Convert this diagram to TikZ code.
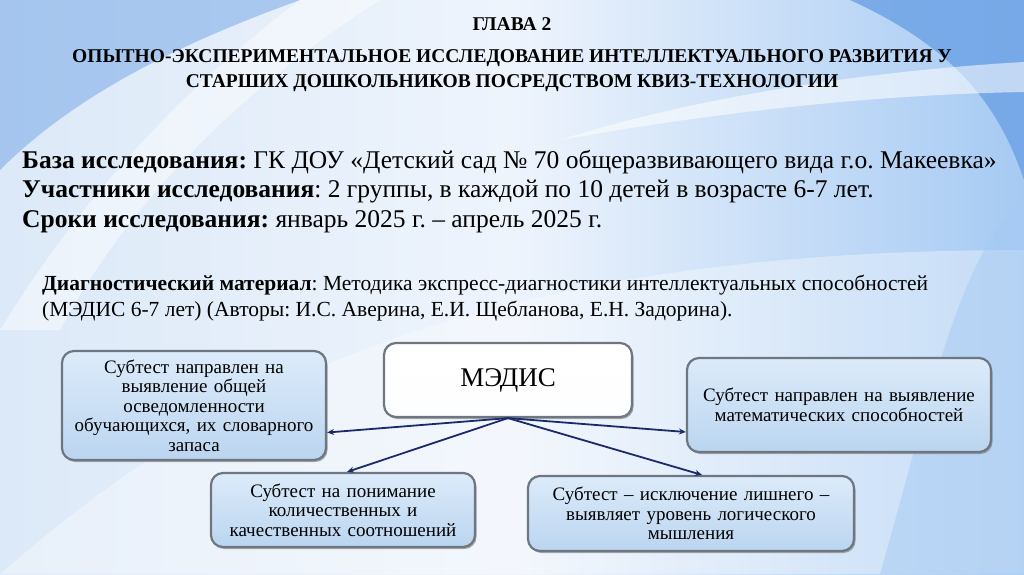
\documentclass[tikz,border=0pt]{standalone}
\usepackage{fontspec}
\setmainfont{Liberation Serif}
\usetikzlibrary{arrows.meta,calc,shadows}
\frenchspacing
\definecolor{navy}{HTML}{1B2A6B}
\definecolor{bordergray}{HTML}{6E7781}
\definecolor{boxtop}{HTML}{DCEBFA}
\definecolor{boxbot}{HTML}{BBD5F0}
\definecolor{bgleft}{HTML}{DCE9F8}
\definecolor{bgmid}{HTML}{EEF4FC}
\definecolor{bgright}{HTML}{A6CAF3}
\definecolor{cornerblue}{HTML}{6FA3E6}
\tikzset{
  subbox/.style={draw=bordergray, line width=2.2pt, rounded corners=12pt,
    top color=boxtop, bottom color=boxbot, align=center, inner sep=3pt,
    font=\fontsize{19}{19.5}\selectfont,
    drop shadow={shadow xshift=1.5pt, shadow yshift=-2pt, fill=black!55, opacity=0.6}},
  mainbox/.style={subbox, top color=white, bottom color=white!94!boxtop,
    font=\fontsize{27}{30}\selectfont},
  link/.style={draw=navy, line width=1.8pt, -{Stealth[length=7pt,width=6pt]}},
  titletext/.style={font=\bfseries\fontsize{19.5}{25}\selectfont, align=center},
  bodytext/.style={anchor=west, font=\fontsize{25.5}{30}\selectfont, inner sep=0pt},
  diagtext/.style={anchor=west, font=\fontsize{21.5}{26}\selectfont, inner sep=0pt}
}
\begin{document}
\begin{tikzpicture}[x=1pt,y=-1pt]
\useasboundingbox (0,0) rectangle (1024,574);
% background
\shade[left color=bgleft, right color=bgright, middle color=bgmid] (0,0) rectangle (1024,574);
\fill[white, opacity=0.35] (0,574) .. controls (200,400) and (450,250) .. (1024,250) -- (1024,574) -- cycle;
\fill[cornerblue, opacity=0.5] (0,0) -- (300,0) .. controls (190,40) and (80,90) .. (0,170) -- cycle;
\fill[white, opacity=0.45] (0,330) .. controls (80,200) and (180,90) .. (300,0) -- (380,0) .. controls (240,90) and (130,200) .. (60,330) -- cycle;
\fill[cornerblue, opacity=0.85] (850,0) -- (1024,0) -- (1024,180) .. controls (1000,110) and (960,50) .. (850,0) -- cycle;
\fill[white, opacity=0.55] (560,140) .. controls (700,95) and (880,70) .. (1024,62) -- (1024,92) .. controls (860,95) and (700,115) .. (560,140) -- cycle;
\fill[bgright, opacity=0.5] (880,574) .. controls (930,400) and (960,250) .. (1024,200) -- (1024,574) -- cycle;

% titles
\node[titletext] (ch) at (512,24) {ГЛАВА 2};
\node[titletext] (title) at (512,70.5) {ОПЫТНО-ЭКСПЕРИМЕНТАЛЬНОЕ ИССЛЕДОВАНИЕ ИНТЕЛЛЕКТУАЛЬНОГО РАЗВИТИЯ У\\СТАРШИХ ДОШКОЛЬНИКОВ ПОСРЕДСТВОМ КВИЗ-ТЕХНОЛОГИИ};

\node[bodytext] (base) at (22,162) {\textbf{База исследования:} ГК ДОУ «Детский сад № 70 общеразвивающего вида г.о. Макеевка»};
\node[bodytext] (part) at (22,192) {\textbf{Участники исследования}: 2 группы, в каждой по 10 детей в возрасте 6-7 лет.};
\node[bodytext] (term) at (22,222) {\textbf{Сроки исследования:} январь 2025 г. – апрель 2025 г.};

\node[diagtext] (diag1) at (42,285) {\textbf{Диагностический материал}: Методика экспресс-диагностики интеллектуальных способностей};
\node[diagtext] (diag2) at (42,311) {(МЭДИС 6-7 лет) (Авторы: И.С. Аверина, Е.И. Щебланова, Е.Н. Задорина).};

% boxes
\node[mainbox, minimum width=248pt, minimum height=74pt] (M) at (508,380) {МЭДИС};
\node[subbox, minimum width=264pt, minimum height=109pt, text width=256pt] (L) at (194,405.5)
  {Субтест направлен на\\выявление общей\\осведомленности\\обучающихся, их словарного\\запаса};
\node[subbox, minimum width=304pt, minimum height=94pt, text width=296pt] (R) at (839,405)
  {Субтест направлен на выявление\\математических способностей};
\node[subbox, minimum width=264pt, minimum height=74pt, text width=256pt] (BL) at (343,510)
  {Субтест на понимание\\количественных и\\качественных соотношений};
\node[subbox, minimum width=326pt, minimum height=75pt, text width=318pt] (BR) at (691,513.5)
  {Субтест – исключение лишнего –\\выявляет уровень логического\\мышления};

% connectors
\coordinate (Lt) at ([yshift=-27pt]L.east);
\coordinate (Rt) at ([yshift=-27pt]R.west);
\coordinate (BLt) at ([xshift=4pt]BL.north);
\coordinate (BRt) at ([xshift=11pt]BR.north);
\draw[link] (M.south) -- (Lt);
\draw[link] (M.south) -- (BLt);
\draw[link] (M.south) -- (Rt);
\draw[link] (M.south) -- (BRt);
\end{tikzpicture}
\end{document}
